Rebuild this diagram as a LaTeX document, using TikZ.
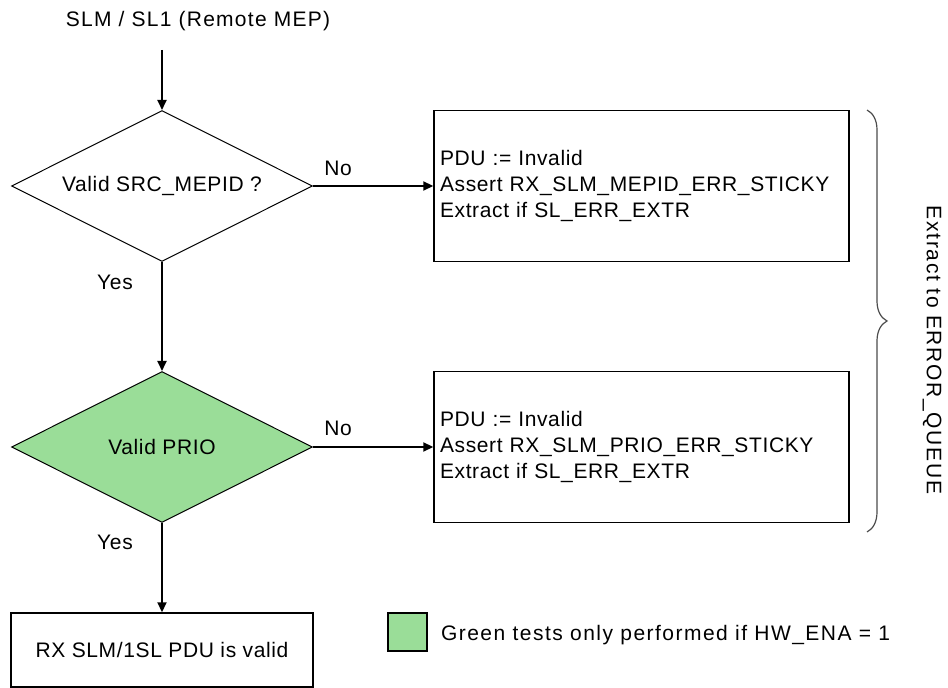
\documentclass[tikz,border=0pt]{standalone}
\usepackage{fontspec}
\setmainfont{Liberation Sans}[LetterSpace=3]
\usetikzlibrary{shapes.geometric,arrows.meta,decorations.pathreplacing}
\definecolor{testgreen}{RGB}{154,221,152}

\begin{document}
\begin{tikzpicture}[x=0.5pt, y=-0.5pt,
    every node/.style={font=\fontsize{10.5}{13}\selectfont},
    spaced/.style={font=\fontsize{10.5}{13}\selectfont\addfontfeatures{LetterSpace=#1}},
    test/.style={diamond, draw, line width=0.5pt, inner sep=0pt, aspect=2,
      minimum width=150.5pt, minimum height=75.5pt},
    action/.style={rectangle, draw, line width=0.7pt, inner xsep=3pt,
      minimum height=75.5pt, text width=201.5pt, align=left},
    flow/.style={-{Triangle[length=5pt,width=4.5pt]}, line width=0.9pt}]
  \useasboundingbox (0,0) rectangle (948,688);
  % Incoming frame
  \node[spaced=6] (title) at (198,21) {SLM / SL1 (Remote MEP)};
  \coordinate (src) at (162,50);
  % Tests
  \node[test]                  (mepid) at (162,186) {Valid SRC\_MEPID ?};
  \node[test, fill=testgreen]  (prio)  at (162,447) {Valid PRIO};
  % Error actions
  \node[action] (mepiderr) at (641.5,186)
    {PDU := Invalid\\Assert RX\_SLM\_MEPID\_ERR\_STICKY\\Extract if SL\_ERR\_EXTR};
  \node[action] (prioerr)  at (641.5,447)
    {PDU := Invalid\\Assert RX\_SLM\_PRIO\_ERR\_STICKY\\Extract if SL\_ERR\_EXTR};
  % Valid frame
  \node[draw, line width=0.7pt, minimum width=151pt, minimum height=37pt]
    (valid) at (162,650) {RX SLM/1SL PDU is valid};
  % Connectors
  \draw[flow] (src) -- (mepid.north);
  \draw[flow] (mepid.east) -- (mepiderr.west);
  \draw[flow] (mepid.south) -- (prio.north);
  \draw[flow] (prio.east) -- (prioerr.west);
  \draw[flow] (prio.south) -- (valid.north);
  % Answers
  \node (no1)  at (338,168) {No};
  \node (yes1) at (115,282) {Yes};
  \node (no2)  at (338,428) {No};
  \node (yes2) at (115,542) {Yes};
  % Brace over both error actions
  \coordinate (bracetop) at (867,110);
  \coordinate (bracebot) at (867,532);
  \draw[black!70, line width=0.6pt, decorate, decoration={brace, amplitude=10pt}]
    (bracetop) -- (bracebot);
  \node[spaced=8, rotate=-90] (queue) at (932,350) {Extract to ERROR\_QUEUE};
  % Legend
  \node[draw, fill=testgreen, line width=0.8pt, inner sep=0pt,
    minimum width=19.5pt, minimum height=19pt] (key) at (407.5,632) {};
  \node[spaced=7, anchor=west] (keytext) at (434,635) {Green tests only performed if HW\_ENA = 1};
\end{tikzpicture}
\end{document}
